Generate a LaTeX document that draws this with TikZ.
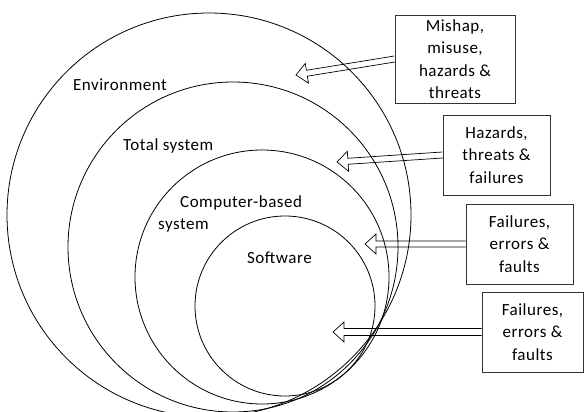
\documentclass[tikz,border=0pt]{standalone}
\usepackage{fontspec}
\setmainfont{Carlito}[LetterSpace=3.0]
\usetikzlibrary{calc}

% hollow block arrow from a tail point to a tip point
% #1 half width of the shaft, #2 tail, #3 tip
\newcommand\hollowarrow[3][3pt]{%
  \coordinate (hb) at ($(#3)!11pt!(#2)$);
  \draw[arrowline]
    ($(#2)!#1!90:(#3)$) -- ($(hb)!#1!90:(#3)$) -- ($(hb)!10pt!90:(#3)$)
    -- (#3)
    -- ($(hb)!10pt!-90:(#3)$) -- ($(hb)!#1!-90:(#3)$) -- ($(#2)!#1!-90:(#3)$);
}

\tikzset{
  ring/.style={draw=black, line width=0.8pt},
  arrowline/.style={draw=black, line width=0.7pt, line join=miter},
  causebox/.style={draw=black!80, line width=0.8pt, align=center, inner sep=0pt,
    font=\fontsize{17}{22.5}\selectfont},
  layer/.style={inner sep=0pt, anchor=base west, font=\fontsize{17}{20}\selectfont}
}

\begin{document}
\begin{tikzpicture}[x=1pt, y=-1pt]
  \useasboundingbox (0,0) rectangle (584,412);
  \clip (0,0) rectangle (584,412);

  % boxes with the sources of harm
  \node[causebox, minimum width=120pt, minimum height=88pt] (b1) at (455,59)
    {Mishap,\\misuse,\\hazards \&\\threats};
  \node[causebox, minimum width=107pt, minimum height=80pt] (b2) at (496.5,155)
    {Hazards,\\threats \&\\failures};
  \node[causebox, minimum width=107pt, minimum height=80pt] (b3) at (519.5,244)
    {Failures,\\errors \&\\faults};
  \node[causebox, minimum width=101pt, minimum height=80pt] (b4) at (532.5,332)
    {Failures,\\errors \&\\faults};

  % arrow tips
  \coordinate (p1) at (296,75);
  \coordinate (p2) at (337,162);
  \coordinate (p3) at (365,244);
  \coordinate (p4) at (333,332);

  \hollowarrow{b1.west}{p1}
  \hollowarrow{b2.west}{p2}
  \hollowarrow{b3.west}{p3}
  \hollowarrow[3.5pt]{b4.west}{p4}

  % nested layers
  \node[ring, circle, minimum size=404pt, inner sep=0pt] (env) at (209,215) {};
  \node[ring, circle, minimum size=330pt, inner sep=0pt] (tot) at (233,247) {};
  \node[ring, circle, minimum size=254pt, inner sep=0pt] (cbs) at (262,277) {};
  \node[ring, circle, minimum size=180pt, inner sep=0pt] (sw)  at (285,306) {};

  % layer names
  \node[layer] (lenv) at (73,91) {Environment};
  \node[layer] (ltot) at (123,150) {Total system};
  \node[layer] (lcbs) at (180,207) {Computer-based};
  \node[layer] (lcbs2) at (158,229) {system};
  \node[layer] (lsw) at (247,263) {Software};
\end{tikzpicture}
\end{document}
